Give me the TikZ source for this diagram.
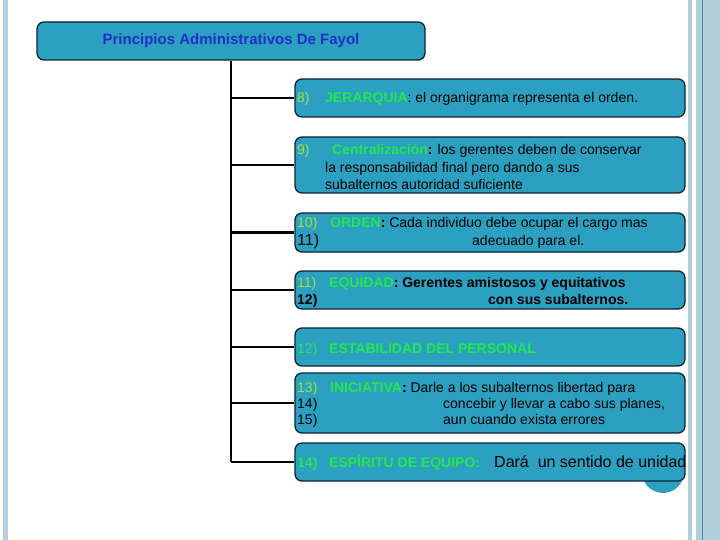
\documentclass[tikz,border=0pt]{standalone}
\usepackage{fontspec}
\setmainfont{Liberation Sans}
\usepackage{xcolor}
\usepackage{tikz}
\usetikzlibrary{positioning}
\definecolor{boxfill}{RGB}{44,160,193}
\definecolor{boxline}{RGB}{12,35,50}
\definecolor{headgreen}{RGB}{35,232,75}
\definecolor{numgreen}{RGB}{160,225,60}
\definecolor{titleblue}{RGB}{35,45,200}
\definecolor{stripe}{RGB}{178,208,220}
\definecolor{stripedark}{RGB}{80,135,160}
\newcommand{\hd}[1]{\textcolor{headgreen}{\bfseries #1}}
\tikzset{principle box/.style={rectangle,rounded corners=7pt,draw=boxline,line width=1.3pt,fill=boxfill,minimum width=390pt,inner sep=0pt},
txt/.style={anchor=base west,inner sep=0pt,font=\fontsize{14}{16}\selectfont},
head/.style={txt,text=headgreen},
num/.style={txt,text=numgreen},
branch/.style={line width=2.5pt}}

\begin{document}
\begin{tikzpicture}[x=1pt,y=-1pt]
\useasboundingbox (0,0) rectangle (720,540);

%DRAWING side stripes
 \fill[stripe] (3,0) rectangle (8,540);
 \fill[stripe] (688,0) rectangle (692,540);
 \fill[stripe] (696,0) rectangle (720,540);
 \draw[stripedark,line width=1pt] (702,0)--(702,540);
 \fill[boxfill] (663,472) circle (21pt);

%Title and principle boxes
  \node[principle box,minimum width=388pt,minimum height=38pt,font=\fontsize{15}{17}\selectfont\bfseries,text=titleblue] (Title) at (231,41) {Principios Administrativos De Fayol};

  \node[principle box,minimum height=38pt] (P8) at (490,98) {};
  \node[principle box,minimum height=56pt] (P9) at (490,165) {};
  \node[principle box,minimum height=39pt] (P10) at (490,232.5) {};
  \node[principle box,minimum height=38pt] (P11) at (490,290) {};
  \node[principle box,minimum height=38pt] (P12) at (490,347) {};
  \node[principle box,minimum height=60pt] (P13) at (490,403) {};
  \node[principle box,minimum height=38pt] (P14) at (490,462) {};

%Trunk and branches
  \draw[branch] (Title.south)--(Title.south |- P14.west);
  \foreach \p in {P8,P9,P10,P11,P12,P13,P14}
   \draw[branch] (Title.south |- \p.west)--(\p.west);

%Texts of the principles
  \node[num] (Num8) at (297,103) {8)};
  \node[txt] (Text8) at (325,103) {\hd{JERARQUIA}: el organigrama representa el orden.};

  \node[num] (Num9) at (297,155) {9)};
  \node[txt] (Text9a) at (332,155) {\hd{Centralización}\textbf{:} los gerentes deben de conservar};
  \node[txt] (Text9b) at (325,173) {la responsabilidad final pero dando a sus};
  \node[txt] (Text9c) at (325,190) {subalternos autoridad suficiente};

  \node[num] (Num10) at (297,228) {10)};
  \node[txt] (Text10a) at (330,228) {\hd{ORDEN}\textbf{:} Cada individuo debe ocupar el cargo mas};
  \node[txt,font=\fontsize{16}{18}\selectfont] (Num10b) at (297,245) {11)};
  \node[txt] (Text10b) at (472,245) {adecuado para el.};

  \node[num] (Num11) at (297,287) {11)};
  \node[txt,font=\fontsize{14}{16}\selectfont\bfseries] (Text11a) at (329,287) {\hd{EQUIDAD}: Gerentes amistosos y equitativos};
  \node[txt,font=\fontsize{14}{16}\selectfont\bfseries] (Num11b) at (297,304) {12)};
  \node[txt,font=\fontsize{14}{16}\selectfont\bfseries] (Text11b) at (488,304) {con sus subalternos.};

  \node[head] (Num12) at (297,353) {12)};
  \node[head,font=\fontsize{14}{16}\selectfont\bfseries] (Text12) at (329,353) {ESTABILIDAD DEL PERSONAL};

  \node[num] (Num13) at (297,392) {13)};
  \node[txt] (Text13a) at (330,392) {\hd{INICIATIVA}\textbf{:} Darle a los subalternos libertad para};
  \node[txt] (Num13b) at (297,408) {14)};
  \node[txt] (Text13b) at (443,408) {concebir y llevar a cabo sus planes,};
  \node[txt] (Num13c) at (297,424) {15)};
  \node[txt] (Text13c) at (443,424) {aun cuando exista errores};

  \node[head,font=\fontsize{14}{16}\selectfont\bfseries] (Num14) at (297,467) {14)};
  \node[head,font=\fontsize{14}{16}\selectfont\bfseries] (Head14) at (329,467) {ESPÍRITU DE EQUIPO:};
  \node[txt,font=\fontsize{16}{18}\selectfont] (Text14) at (494,467) {Dará\ \ un sentido de unidad};

\end{tikzpicture}
\end{document}
